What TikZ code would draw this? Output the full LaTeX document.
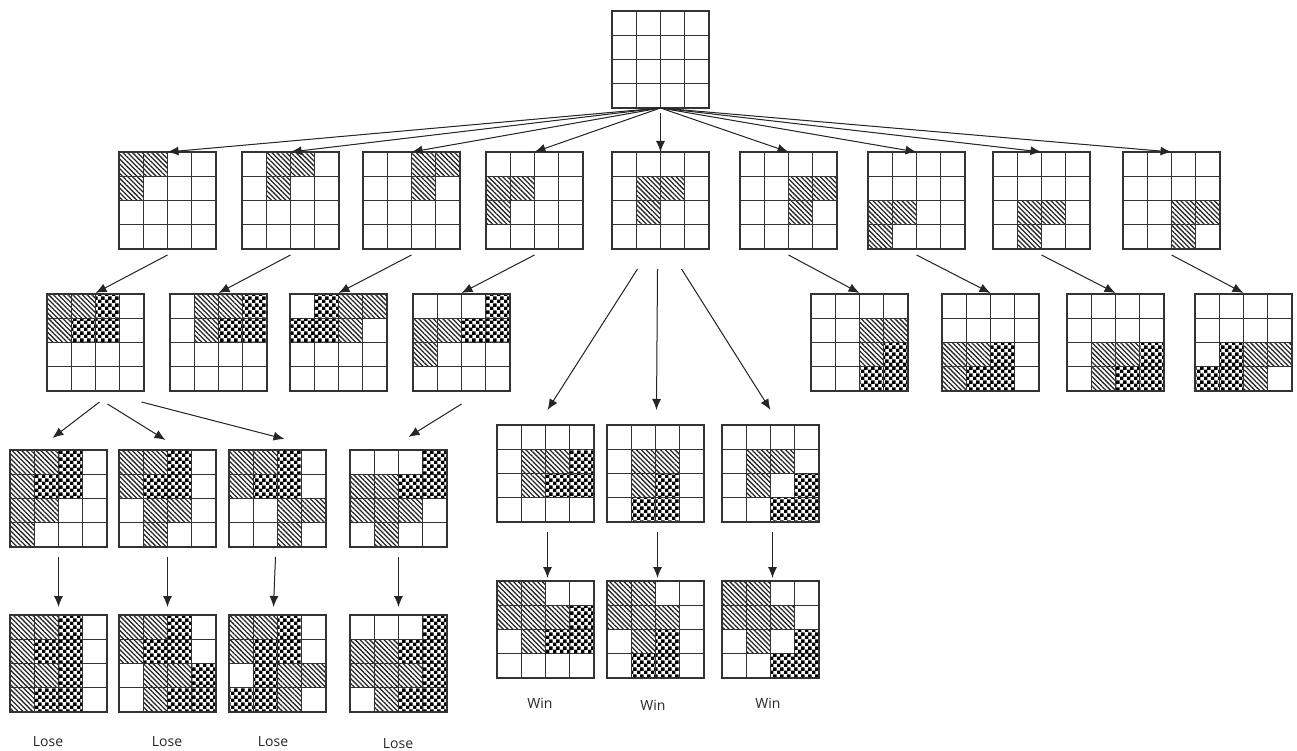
\documentclass[tikz,border=0pt]{standalone}
\usepackage{fontspec}
\setmainfont{Open Sans}
\usetikzlibrary{arrows.meta,patterns.meta}

% Checker pattern, square checks
\pgfdeclarepattern{
  name=checks, type=uncolored,
  bottom left={\pgfpointorigin}, top right={\pgfpoint{7pt}{7pt}},
  tile size={\pgfpoint{7pt}{7pt}},
  code={
    \pgfpathrectangle{\pgfpointorigin}{\pgfpoint{3.8pt}{3.8pt}}
    \pgfpathrectangle{\pgfpoint{3.5pt}{3.5pt}}{\pgfpoint{3.8pt}{3.8pt}}
    \pgfusepath{fill}
  }
}

\tikzset{
  boardbox/.style={anchor=north west,minimum width=97pt,minimum height=97pt,inner sep=0pt,outer sep=0pt},
  gridline/.style={draw=black!80,line width=1.1pt},
  hatchcell/.style={pattern={Lines[angle=-45,distance=3.4pt,line width=1.3pt]},pattern color=black!85},
  checkcell/.style={pattern=checks,pattern color=black},
  arr/.style={-{Latex[length=11pt,width=9pt]},line width=1pt,draw=black!85,fill=black!85},
  result/.style={font=\fontsize{14}{16}\selectfont,text=black!85,inner sep=0pt}
}

\newcommand\board[3]{\node[boardbox] (#1) at (#2,#3) {};}
\newcommand\hatchcells[2]{%
  \foreach \row/\col in {#2}{
    \path[hatchcell] ([shift={(\col*24.25,\row*24.25)}]#1.north west) rectangle +(24.25,24.25);
  }}
\newcommand\checkcells[2]{%
  \foreach \row/\col in {#2}{
    \path[checkcell] ([shift={(\col*24.25,\row*24.25)}]#1.north west) rectangle +(24.25,24.25);
  }}
\newcommand\gridlines[1]{%
  \foreach \k in {1,2,3}{
    \draw[gridline] ([xshift=\k*24.25pt]#1.north west) -- ([xshift=\k*24.25pt]#1.south west);
    \draw[gridline] ([yshift=-\k*24.25pt]#1.north west) -- ([yshift=-\k*24.25pt]#1.north east);
  }
  \draw[gridline] (#1.north west) rectangle (#1.south east);}

\begin{document}
\begin{tikzpicture}[x=1pt,y=-1pt]
  \useasboundingbox (0,0) rectangle (1297,751);

  % empty board
  \board{root}{612}{11}

  % first move
  \board{m1}{119}{152}  \hatchcells{m1}{0/0,0/1,1/0}
  \board{m2}{242}{152}  \hatchcells{m2}{0/1,0/2,1/1}
  \board{m3}{363}{152}  \hatchcells{m3}{0/2,0/3,1/2}
  \board{m4}{486}{152}  \hatchcells{m4}{1/0,1/1,2/0}
  \board{m5}{612}{152}  \hatchcells{m5}{1/1,1/2,2/1}
  \board{m6}{740}{152}  \hatchcells{m6}{1/2,1/3,2/2}
  \board{m7}{868}{152}  \hatchcells{m7}{2/0,2/1,3/0}
  \board{m8}{993}{152}  \hatchcells{m8}{2/1,2/2,3/1}
  \board{m9}{1123}{152} \hatchcells{m9}{2/2,2/3,3/2}

  % replies
  \board{r1}{47}{294}   \hatchcells{r1}{0/0,0/1,1/0} \checkcells{r1}{0/2,1/1,1/2}
  \board{r2}{170}{294}  \hatchcells{r2}{0/1,0/2,1/1} \checkcells{r2}{0/3,1/2,1/3}
  \board{r3}{290}{294}  \hatchcells{r3}{0/2,0/3,1/2} \checkcells{r3}{0/1,1/0,1/1}
  \board{r4}{413}{294}  \hatchcells{r4}{1/0,1/1,2/0} \checkcells{r4}{0/3,1/2,1/3}
  \board{r5}{811}{294}  \hatchcells{r5}{1/2,1/3,2/2} \checkcells{r5}{2/3,3/2,3/3}
  \board{r6}{942}{294}  \hatchcells{r6}{2/0,2/1,3/0} \checkcells{r6}{2/2,3/1,3/2}
  \board{r7}{1067}{294} \hatchcells{r7}{2/1,2/2,3/1} \checkcells{r7}{2/3,3/2,3/3}
  \board{r8}{1195}{294} \hatchcells{r8}{2/2,2/3,3/2} \checkcells{r8}{2/1,3/0,3/1}

  % second move
  \board{t1}{10}{450}  \hatchcells{t1}{0/0,0/1,1/0,2/0,2/1,3/0} \checkcells{t1}{0/2,1/1,1/2}
  \board{t2}{119}{450} \hatchcells{t2}{0/0,0/1,1/0,2/1,2/2,3/1} \checkcells{t2}{0/2,1/1,1/2}
  \board{t3}{229}{450} \hatchcells{t3}{0/0,0/1,1/0,2/2,2/3,3/2} \checkcells{t3}{0/2,1/1,1/2}
  \board{t4}{350}{450} \hatchcells{t4}{1/0,1/1,2/0,2/1,2/2,3/1} \checkcells{t4}{0/3,1/2,1/3}
  \board{t5}{497}{425} \hatchcells{t5}{1/1,1/2,2/1} \checkcells{t5}{1/3,2/2,2/3}
  \board{t6}{607}{425} \hatchcells{t6}{1/1,1/2,2/1} \checkcells{t6}{2/2,3/1,3/2}
  \board{t7}{722}{425} \hatchcells{t7}{1/1,1/2,2/1} \checkcells{t7}{2/3,3/2,3/3}

  % end positions
  \board{e1}{10}{615}  \hatchcells{e1}{0/0,0/1,1/0,2/0,2/1,3/0} \checkcells{e1}{0/2,1/1,1/2,2/2,3/1,3/2}
  \board{e2}{119}{615} \hatchcells{e2}{0/0,0/1,1/0,2/1,2/2,3/1} \checkcells{e2}{0/2,1/1,1/2,2/3,3/2,3/3}
  \board{e3}{229}{615} \hatchcells{e3}{0/0,0/1,1/0,2/2,2/3,3/2} \checkcells{e3}{0/2,1/1,1/2,2/1,3/0,3/1}
  \board{e4}{350}{615} \hatchcells{e4}{1/0,1/1,2/0,2/1,2/2,3/1} \checkcells{e4}{0/3,1/2,1/3,2/3,3/2,3/3}
  \board{e5}{497}{581} \hatchcells{e5}{0/0,0/1,1/0,1/1,1/2,2/1} \checkcells{e5}{1/3,2/2,2/3}
  \board{e6}{607}{581} \hatchcells{e6}{0/0,0/1,1/0,1/1,1/2,2/1} \checkcells{e6}{2/2,3/1,3/2}
  \board{e7}{722}{581} \hatchcells{e7}{0/0,0/1,1/0,1/1,1/2,2/1} \checkcells{e7}{2/3,3/2,3/3}

  \foreach \b in {root,m1,m2,m3,m4,m5,m6,m7,m8,m9,r1,r2,r3,r4,r5,r6,r7,r8,
                  t1,t2,t3,t4,t5,t6,t7,e1,e2,e3,e4,e5,e6,e7}{
    \gridlines{\b}
  }

  % results
  \node[result] (lose1) at (48,742)  {Lose};
  \node[result] (lose2) at (167,742) {Lose};
  \node[result] (lose3) at (273,742) {Lose};
  \node[result] (lose4) at (398,744) {Lose};
  \node[result] (win1)  at (540,703) {Win};
  \node[result] (win2)  at (653,705) {Win};
  \node[result] (win3)  at (768,703) {Win};

  % arrows
  \foreach \m in {m1,m2,m3,m4,m6,m7,m8,m9}{
    \draw[arr] (root.south) -- (\m.north);
  }
  \draw[arr] ([yshift=-5pt]root.south) -- (m5.north);
  \foreach \u/\v in {m1/r1,m2/r2,m3/r3,m4/r4,m6/r5,m7/r6,m8/r7,m9/r8}{
    \draw[arr] ([yshift=-6pt]\u.south) -- ([yshift=1pt]\v.north);
  }
  \draw[arr] ([xshift=-23pt,yshift=-20pt]m5.south) -- ([xshift=2pt,yshift=15pt]t5.north);
  \draw[arr] ([xshift=-3pt,yshift=-20pt]m5.south) -- ([xshift=1pt,yshift=15pt]t6.north);
  \draw[arr] ([xshift=21pt,yshift=-20pt]m5.south) -- ([yshift=15pt]t7.north);
  \draw[arr] ([xshift=4pt,yshift=-11pt]r1.south) -- ([xshift=-6pt,yshift=12pt]t1.north);
  \draw[arr] ([xshift=12pt,yshift=-13pt]r1.south) -- ([xshift=-2pt,yshift=10pt]t2.north);
  \draw[arr] ([xshift=46pt,yshift=-11pt]r1.south) -- ([xshift=7pt,yshift=11pt]t3.north);
  \draw[arr] ([yshift=-13pt]r4.south) -- ([xshift=10pt,yshift=13pt]t4.north);
  \foreach \u/\v in {t1/e1,t2/e2,t4/e4}{
    \draw[arr] ([yshift=-10pt]\u.south) -- ([yshift=8pt]\v.north);
  }
  \draw[arr] ([xshift=-2pt,yshift=-10pt]t3.south) -- ([xshift=-4pt,yshift=8pt]e3.north);
  \foreach \u/\v in {t5/e5,t6/e6,t7/e7}{
    \draw[arr] ([xshift=2pt,yshift=-10pt]\u.south) -- ([xshift=2pt,yshift=3pt]\v.north);
  }
\end{tikzpicture}
\end{document}
